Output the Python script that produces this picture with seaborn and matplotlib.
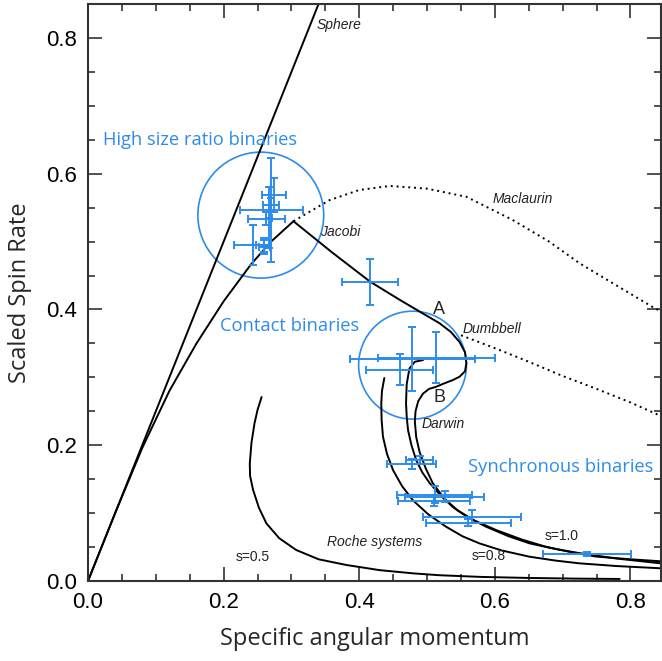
import matplotlib
matplotlib.use('Agg')
import matplotlib.pyplot as plt
from matplotlib.patches import Circle
from matplotlib.ticker import MultipleLocator
import seaborn as sns

# equilibrium sequences
sphere_x = [0.0, 0.34]
sphere_y = [0.0, 0.85]

maclaurin_x = [0.0, 0.04, 0.08, 0.12, 0.16, 0.20, 0.24, 0.27, 0.303]
maclaurin_y = [0.0, 0.10, 0.196, 0.28, 0.35, 0.412, 0.466, 0.50, 0.530]

maclaurin_unstable_x = [0.303, 0.356, 0.40, 0.445, 0.50, 0.558, 0.626, 0.68, 0.725, 0.78, 0.832, 0.845]
maclaurin_unstable_y = [0.530, 0.561, 0.576, 0.582, 0.578, 0.566, 0.532, 0.50, 0.468, 0.435, 0.404, 0.397]

jacobi_x = [0.303, 0.36, 0.416, 0.46, 0.494, 0.518, 0.535, 0.548, 0.556, 0.558, 0.556, 0.548,
            0.538, 0.525, 0.513, 0.503, 0.494, 0.487, 0.483, 0.482, 0.484, 0.489, 0.498, 0.5085,
            0.525, 0.545, 0.570, 0.602, 0.640, 0.675, 0.710, 0.749, 0.80, 0.845]
jacobi_y = [0.530, 0.484, 0.441, 0.414, 0.394, 0.380, 0.367, 0.352, 0.337, 0.321, 0.309, 0.301,
            0.296, 0.291, 0.286, 0.283, 0.276, 0.265, 0.250, 0.235, 0.212, 0.190, 0.166, 0.144,
            0.122, 0.104, 0.089, 0.075, 0.061, 0.0505, 0.043, 0.036, 0.032, 0.029]

dumbbell_x = [0.550, 0.60, 0.65, 0.70, 0.75, 0.80, 0.845]
dumbbell_y = [0.362, 0.343, 0.323, 0.302, 0.283, 0.263, 0.243]

darwin_mid_x = [0.494, 0.482, 0.474, 0.470, 0.469, 0.470, 0.472, 0.477, 0.484, 0.493, 0.504,
                0.520, 0.538, 0.560, 0.587, 0.620, 0.651, 0.690, 0.725, 0.78, 0.845]
darwin_mid_y = [0.3255, 0.323, 0.313, 0.290, 0.262, 0.242, 0.222, 0.200, 0.178, 0.160, 0.144,
                0.126, 0.109, 0.094, 0.080, 0.066, 0.0555, 0.047, 0.041, 0.033, 0.026]

darwin_s08_x = [0.437, 0.4335, 0.4325, 0.433, 0.435, 0.441, 0.450, 0.463, 0.479, 0.502, 0.528,
                0.552, 0.577, 0.610, 0.651, 0.690, 0.725, 0.78, 0.845]
darwin_s08_y = [0.299, 0.280, 0.262, 0.237, 0.2125, 0.187, 0.163, 0.140, 0.119, 0.098, 0.080,
                0.066, 0.0555, 0.045, 0.0358, 0.030, 0.026, 0.022, 0.0187]

roche_s05_x = [0.256, 0.250, 0.2455, 0.241, 0.2386, 0.239, 0.2435, 0.252, 0.263, 0.282, 0.307,
               0.340, 0.381, 0.430, 0.479, 0.518, 0.58, 0.65, 0.72, 0.784]
roche_s05_y = [0.271, 0.252, 0.232, 0.203, 0.173, 0.155, 0.134, 0.108, 0.085, 0.063, 0.0457,
               0.032, 0.0236, 0.016, 0.0113, 0.0085, 0.006, 0.0045, 0.0035, 0.003]

# asteroid binaries (centre, x error, y error)
bin_x = [0.2705, 0.274, 0.263, 0.270, 0.243, 0.259, 0.260, 0.267,
         0.416, 0.478, 0.5135, 0.4595,
         0.4776, 0.489, 0.511, 0.526, 0.510, 0.566, 0.561, 0.736]
bin_y = [0.547, 0.5685, 0.534, 0.554, 0.495, 0.495, 0.492, 0.535,
         0.441, 0.327, 0.329, 0.311,
         0.172, 0.178, 0.127, 0.124, 0.118, 0.095, 0.086, 0.040]
bin_xerr = [0.0466, 0.018, 0.027, 0.012, 0.0275, 0.011, 0.008, 0.004,
            0.041, 0.092, 0.086, 0.049,
            0.036, 0.020, 0.056, 0.058, 0.053, 0.072, 0.063, 0.065]
bin_yerr = [0.0765, 0.025, 0.010, 0.010, 0.029, 0.010, 0.011, 0.045,
            0.034, 0.047, 0.038, 0.023,
            0.007, 0.006, 0.0125, 0.008, 0.008, 0.010, 0.005, 0.003]

# group circles (centre x, centre y, radius)
circle_x = [0.2548, 0.4786]
circle_y = [0.539, 0.318]
circle_r = [0.0928, 0.0795]

blue = '#2d8ceb'

sns.set_style('ticks')
plt.rcParams['font.family'] = ['Liberation Sans', 'DejaVu Sans']

fig = plt.figure(figsize=(6.62, 6.61), dpi=100)
ax = fig.add_axes([88 / 662, 80 / 661, 573 / 662, 577 / 661])

line_kw = dict(color='black', linewidth=1.4, sort=False, estimator=None, legend=False, ax=ax)
sns.lineplot(x=sphere_x, y=sphere_y, **line_kw)
sns.lineplot(x=maclaurin_x, y=maclaurin_y, **line_kw)
sns.lineplot(x=jacobi_x, y=jacobi_y, **line_kw)
sns.lineplot(x=darwin_mid_x, y=darwin_mid_y, **line_kw)
sns.lineplot(x=darwin_s08_x, y=darwin_s08_y, **line_kw)
sns.lineplot(x=roche_s05_x, y=roche_s05_y, **line_kw)
ax.plot(maclaurin_unstable_x, maclaurin_unstable_y, color='black', linewidth=1.4, linestyle=(0, (1, 2)))
ax.plot(dumbbell_x, dumbbell_y, color='black', linewidth=1.4, linestyle=(0, (1, 2)))

ax.errorbar(bin_x, bin_y, xerr=bin_xerr, yerr=bin_yerr, fmt='none', ecolor=blue,
            elinewidth=1.4, capsize=3, capthick=1.4)

for cx, cy, r in zip(circle_x, circle_y, circle_r):
    ax.add_patch(Circle((cx, cy), r, fill=False, edgecolor=blue, linewidth=1.2))

# curve labels
ital = dict(fontsize=10, style='italic', color='#222222', va='center')
ax.text(0.337, 0.819, 'Sphere', **ital)
ax.text(0.596, 0.5626, 'Maclaurin', **ital)
ax.text(0.342, 0.514, 'Jacobi', **ital)
ax.text(0.552, 0.371, 'Dumbbell', **ital)
ax.text(0.492, 0.231, 'Darwin', **ital)
ax.text(0.352, 0.0574, 'Roche systems', **ital)
plain = dict(fontsize=10, color='#222222', va='center')
ax.text(0.218, 0.035, 's=0.5', **plain)
ax.text(0.566, 0.037, 's=0.8', **plain)
ax.text(0.673, 0.066, 's=1.0', **plain)
ax.text(0.517, 0.4006, 'A', fontsize=13, ha='center', va='center')
ax.text(0.518, 0.271, 'B', fontsize=13, ha='center', va='center')

grp = dict(fontsize=13.2, color=blue, va='center', family=['Open Sans', 'DejaVu Sans'])
ax.text(0.022, 0.6495, 'High size ratio binaries', **grp)
ax.text(0.194, 0.3755, 'Contact binaries', **grp)
ax.text(0.560, 0.168, 'Synchronous binaries', **grp)

ax.set_xlim(0, 0.845)
ax.set_ylim(0, 0.85)
ax.xaxis.set_major_locator(MultipleLocator(0.2))
ax.xaxis.set_minor_locator(MultipleLocator(0.05))
ax.yaxis.set_major_locator(MultipleLocator(0.2))
ax.yaxis.set_minor_locator(MultipleLocator(0.05))
ax.tick_params(which='both', direction='in', top=True, right=True, colors='#333333', width=1.2)
ax.tick_params(which='major', length=10, labelsize=16, pad=8, labelcolor='black')
ax.tick_params(which='minor', length=5)
for s in ax.spines.values():
    s.set_linewidth(1.5)
    s.set_color('#333333')

ax.set_xlabel('Specific angular momentum', fontsize=17, labelpad=10, family=['Open Sans', 'DejaVu Sans'])
ax.set_ylabel('Scaled Spin Rate', fontsize=17, labelpad=10, family=['Open Sans', 'DejaVu Sans'])

fig.savefig('out.png', dpi=100)
